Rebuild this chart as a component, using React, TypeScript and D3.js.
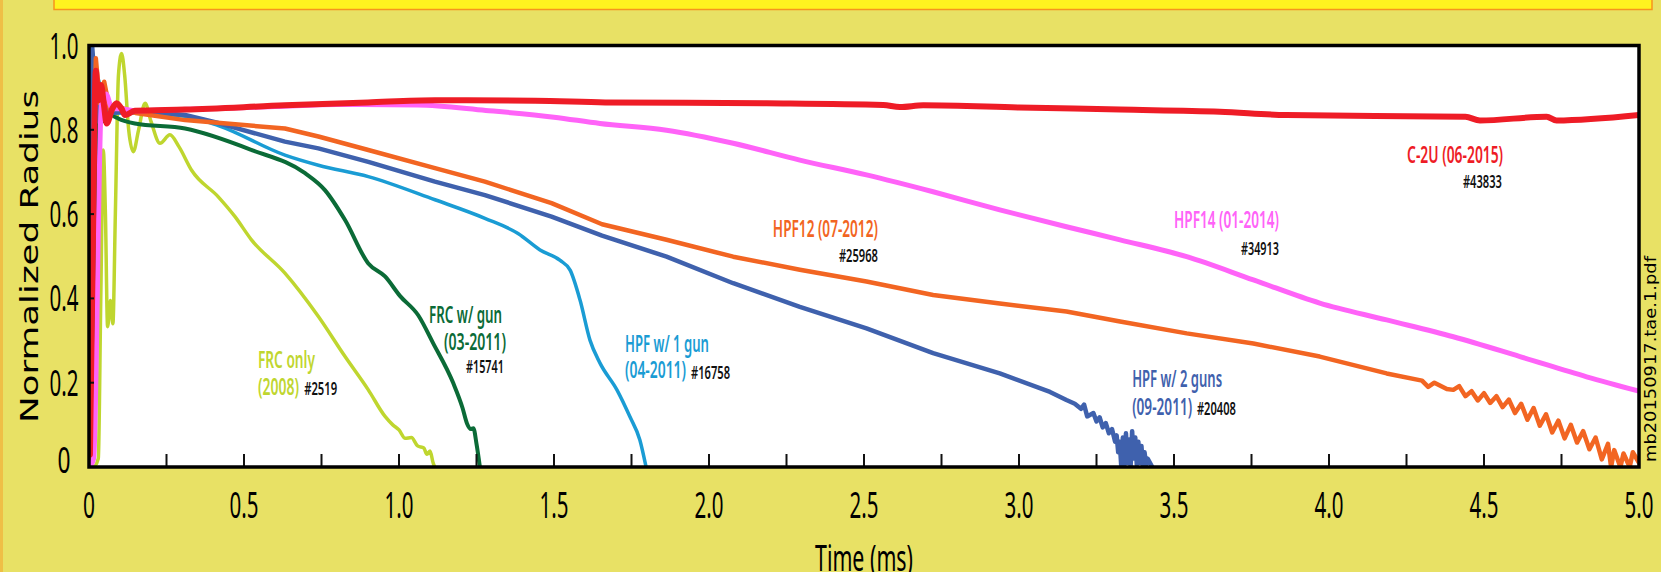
import React from 'react';
import * as d3 from 'd3';

// time (ms), normalized radius
const frcOnly: [number, number][] = [
  [0.003, 0.04], [0.015, 0.0], [0.03, 0.02], [0.038, 0.4], [0.046, 0.752], [0.053, 0.6],
  [0.06, 0.333], [0.069, 0.395], [0.077, 0.34], [0.085, 0.6], [0.095, 0.93], [0.105, 0.981],
  [0.115, 0.93], [0.128, 0.8], [0.143, 0.748], [0.16, 0.8], [0.181, 0.863], [0.2, 0.82],
  [0.229, 0.768], [0.261, 0.788], [0.29, 0.76], [0.331, 0.704], [0.417, 0.641], [0.471, 0.594],
  [0.524, 0.539], [0.632, 0.46], [0.74, 0.357], [0.826, 0.262], [0.901, 0.183], [0.955, 0.12],
  [0.98, 0.1], [1.0, 0.088], [1.02, 0.068], [1.04, 0.07], [1.06, 0.05], [1.08, 0.045],
  [1.09, 0.03], [1.1, 0.038], [1.11, 0.01], [1.115, 0.0],
];

const frcGun: [number, number][] = [
  [0.005, 0.0], [0.02, 0.3], [0.033, 0.85], [0.045, 0.82], [0.06, 0.855], [0.075, 0.835],
  [0.094, 0.827], [0.148, 0.815], [0.31, 0.803], [0.525, 0.752], [0.697, 0.697], [0.761, 0.657],
  [0.826, 0.586], [0.901, 0.483], [0.955, 0.452], [1.003, 0.406], [1.062, 0.36], [1.11, 0.294],
  [1.175, 0.199], [1.205, 0.14], [1.219, 0.104], [1.232, 0.09], [1.24, 0.092], [1.25, 0.055],
  [1.261, 0.0],
];

const hpf1Gun: [number, number][] = [
  [0.003, 0.0], [0.012, 0.9], [0.03, 0.92], [0.045, 0.85], [0.07, 0.84], [0.15, 0.84],
  [0.31, 0.832], [0.417, 0.81], [0.632, 0.74], [0.74, 0.716], [0.901, 0.689], [1.116, 0.634],
  [1.277, 0.59], [1.384, 0.554], [1.455, 0.515], [1.52, 0.49], [1.552, 0.467], [1.584, 0.396],
  [1.616, 0.301], [1.648, 0.247], [1.703, 0.183], [1.745, 0.119], [1.777, 0.064], [1.797, 0.0],
];

const hpf2Guns: [number, number][] = [
  [0.003, 0.0], [0.01, 1.0], [0.02, 0.9], [0.03, 0.82], [0.045, 0.86], [0.07, 0.84],
  [0.15, 0.845], [0.31, 0.835], [0.417, 0.816], [0.632, 0.772], [0.74, 0.756], [0.901, 0.724],
  [1.116, 0.677], [1.277, 0.645], [1.492, 0.594], [1.655, 0.549], [1.863, 0.499], [2.078, 0.436],
  [2.293, 0.38], [2.508, 0.329], [2.723, 0.27], [2.938, 0.222], [3.1, 0.178], [3.153, 0.159],
  [3.18, 0.15], [3.2, 0.138], [3.21, 0.148], [3.22, 0.12], [3.24, 0.128], [3.25, 0.108],
  [3.26, 0.118], [3.27, 0.094], [3.28, 0.104], [3.29, 0.08], [3.3, 0.09], [3.31, 0.06],
  [3.315, 0.075], [3.32, 0.035], [3.325, 0.06], [3.33, 0.0], [3.335, 0.07], [3.34, 0.005],
  [3.345, 0.08], [3.35, 0.01], [3.355, 0.065], [3.36, 0.0], [3.365, 0.085], [3.37, 0.02],
  [3.375, 0.07], [3.38, 0.005], [3.385, 0.06], [3.39, 0.01], [3.395, 0.05], [3.4, 0.0],
  [3.405, 0.035], [3.41, 0.005], [3.415, 0.02], [3.43, 0.0],
];

const hpf12: [number, number][] = [
  [0.003, 0.0], [0.012, 0.6], [0.022, 0.97], [0.035, 0.863], [0.049, 0.914], [0.068, 0.843],
  [0.094, 0.855], [0.15, 0.84], [0.31, 0.823], [0.632, 0.803], [0.74, 0.784], [0.901, 0.752],
  [1.116, 0.709], [1.277, 0.677], [1.492, 0.626], [1.655, 0.576], [1.863, 0.539], [2.078, 0.499],
  [2.293, 0.468], [2.508, 0.44], [2.723, 0.408], [2.938, 0.388], [3.153, 0.369], [3.326, 0.345],
  [3.541, 0.317], [3.756, 0.293], [3.97, 0.262], [4.186, 0.222], [4.3, 0.205], [4.32, 0.19],
  [4.34, 0.2], [4.38, 0.185], [4.401, 0.183], [4.42, 0.192], [4.44, 0.168], [4.46, 0.18],
  [4.48, 0.158], [4.5, 0.175], [4.52, 0.152], [4.54, 0.168], [4.56, 0.142], [4.58, 0.16],
  [4.6, 0.128], [4.62, 0.15], [4.64, 0.112], [4.66, 0.14], [4.68, 0.098], [4.7, 0.125],
  [4.72, 0.082], [4.74, 0.11], [4.76, 0.068], [4.78, 0.1], [4.8, 0.058], [4.82, 0.085],
  [4.84, 0.042], [4.86, 0.07], [4.88, 0.018], [4.9, 0.055], [4.91, 0.0], [4.92, 0.04],
  [4.94, 0.0], [4.95, 0.032], [4.97, 0.0], [4.98, 0.035], [5.0, 0.01],
];

const hpf14: [number, number][] = [
  [0.003, 0.0], [0.015, 0.02], [0.04, 0.86], [0.055, 0.885], [0.075, 0.85], [0.1, 0.85],
  [0.15, 0.845], [0.3, 0.848], [0.6, 0.855], [0.8, 0.86], [1.06, 0.859], [1.28, 0.846],
  [1.5, 0.83], [1.648, 0.815], [1.863, 0.799], [2.078, 0.768], [2.293, 0.728], [2.508, 0.693],
  [2.723, 0.653], [2.938, 0.61], [3.153, 0.57], [3.326, 0.539], [3.541, 0.499], [3.756, 0.444],
  [3.97, 0.389], [4.186, 0.349], [4.401, 0.309], [4.616, 0.262], [4.831, 0.214], [5.0, 0.18],
];

const c2u: [number, number][] = [
  [0.003, 0.03], [0.012, 0.5], [0.022, 0.94], [0.03, 0.87], [0.039, 0.906], [0.048, 0.86],
  [0.057, 0.815], [0.075, 0.85], [0.089, 0.863], [0.105, 0.85], [0.116, 0.835], [0.148, 0.845],
  [0.31, 0.848], [0.632, 0.858], [0.9, 0.865], [1.116, 0.87], [1.439, 0.869], [1.665, 0.865],
  [2.186, 0.863], [2.562, 0.859], [2.616, 0.854], [2.691, 0.858], [3.0, 0.853], [3.326, 0.848],
  [3.648, 0.843], [3.863, 0.835], [4.44, 0.831], [4.487, 0.822], [4.702, 0.831], [4.734, 0.822],
  [5.0, 0.835],
];

const xTickLabels = ['0', '0.5', '1.0', '1.5', '2.0', '2.5', '3.0', '3.5', '4.0', '4.5', '5.0'];
const yTickLabels = ['0', '0.2', '0.4', '0.6', '0.8', '1.0'];

const series = [
  { data: frcOnly, color: '#bfd62f', width: 3.5, jagged: false },
  { data: frcGun, color: '#0b6b37', width: 4, jagged: false },
  { data: hpf1Gun, color: '#1a9cd4', width: 3.5, jagged: false },
  { data: hpf2Guns, color: '#3f61ad', width: 4.5, jagged: true },
  { data: hpf12, color: '#f26522', width: 4.5, jagged: true },
  { data: hpf14, color: '#ff63f8', width: 5, jagged: false },
  { data: c2u, color: '#ee1c26', width: 6, jagged: false },
];

// annotation text: [text, color, left x (ms), baseline (radius), width px, size]
const notes: [string, string, number, number, number, number][] = [
  ['FRC only', '#bfd62f', 0.545, 0.235, 57, 23],
  ['(2008)', '#bfd62f', 0.545, 0.171, 41, 23],
  ['#2519', '#111', 0.694, 0.171, 33, 17],
  ['FRC w/ gun', '#0b6b37', 1.097, 0.342, 73, 23],
  ['(03-2011)', '#0b6b37', 1.145, 0.278, 62, 23],
  ['#15741', '#111', 1.216, 0.223, 38, 17],
  ['HPF w/ 1 gun', '#1a9cd4', 1.729, 0.272, 84, 23],
  ['(04-2011)', '#1a9cd4', 1.729, 0.211, 61, 23],
  ['#16758', '#111', 1.942, 0.209, 39, 17],
  ['HPF12 (07-2012)', '#f26522', 2.206, 0.546, 105, 23],
  ['#25968', '#111', 2.419, 0.486, 39, 17],
  ['HPF w/ 2 guns', '#3f61ad', 3.365, 0.19, 90, 23],
  ['(09-2011)', '#3f61ad', 3.365, 0.123, 60, 23],
  ['#20408', '#111', 3.574, 0.123, 39, 17],
  ['HPF14 (01-2014)', '#ff63f8', 3.5, 0.567, 105, 23],
  ['#34913', '#111', 3.716, 0.503, 38, 17],
  ['C-2U (06-2015)', '#ee1c26', 4.252, 0.721, 96, 23],
  ['#43833', '#111', 4.432, 0.662, 39, 17],
];

const W = 1661;
const H = 572;
const left = 89, right = 1639, top = 45.5, bottom = 467;
const labelFont = '"Noto Sans", "Open Sans", sans-serif';

export default function App() {
  const x = d3.scaleLinear().domain([0, 5]).range([left, right]);
  const y = d3.scaleLinear().domain([0, 1]).range([bottom, top]);
  const smooth = d3.line<[number, number]>()
    .x(d => x(d[0]))
    .y(d => y(d[1]))
    .curve(d3.curveMonotoneX);
  const rough = d3.line<[number, number]>()
    .x(d => x(d[0]))
    .y(d => y(d[1]));

  const minorTicks = d3.range(1, 20).map(i => i * 0.25);

  return (
    <svg width={W} height={H} style={{ position: 'absolute', left: 0, top: 0 }}>
      <rect x={0} y={0} width={W} height={H} fill="#e8e165" />
      <rect x={0} y={0} width={3} height={H} fill="#efbf46" />
      <rect x={54} y={-10} width={1598} height={19.5} fill="#fff31f" stroke="#f7941d" strokeWidth={1.5} />

      <defs>
        <clipPath id="plot">
          <rect x={left} y={top} width={right - left} height={bottom - top} />
        </clipPath>
      </defs>
      <rect x={left} y={top} width={right - left} height={bottom - top} fill="#fff" />

      <g clipPath="url(#plot)">
        {series.map((s, i) => (
          <path key={i} d={(s.jagged ? rough : smooth)(s.data) || ''} fill="none" stroke={s.color}
            strokeWidth={s.width} strokeLinejoin="round" strokeLinecap="round" />
        ))}
      </g>

      {minorTicks.map(t => (
        <line key={t} x1={x(t)} x2={x(t)} y1={bottom} y2={bottom - 13} stroke="#111" strokeWidth={2} />
      ))}
      {[0.2, 0.4, 0.6, 0.8].map(v => (
        <line key={v} x1={left} x2={left + 5} y1={y(v)} y2={y(v)} stroke="#111" strokeWidth={2} />
      ))}
      <rect x={left} y={top} width={right - left} height={bottom - top} fill="none" stroke="#000" strokeWidth={3.5} />

      {notes.map(([txt, col, t, v, w, size]) => (
        <text key={txt + t} x={x(t)} y={y(v)} fill={col} fontFamily={labelFont} fontSize={size}
          fontWeight={600} textLength={w} lengthAdjust="spacingAndGlyphs">{txt}</text>
      ))}

      {xTickLabels.map((s, i) => (
        <text key={s} x={x(i * 0.5)} y={518} textAnchor="middle" fontFamily={labelFont} fontSize={37}
          fill="#000" textLength={s.length === 1 ? 12 : 29} lengthAdjust="spacingAndGlyphs">{s}</text>
      ))}
      {yTickLabels.map((s, i) => (
        <text key={s} x={64} y={y(i * 0.2) + (i === 0 ? 6 : 13)} textAnchor="middle" fontFamily={labelFont}
          fontSize={37} fill="#000" textLength={s.length === 1 ? 13 : 29} lengthAdjust="spacingAndGlyphs">{s}</text>
      ))}

      <text x={864} y={571} textAnchor="middle" fontFamily={labelFont} fontSize={37} fill="#000"
        textLength={98} lengthAdjust="spacingAndGlyphs">Time (ms)</text>
      <text transform="translate(38,256.5) rotate(-90)" textAnchor="middle" fontFamily="DejaVu Sans"
        fontSize={24} fill="#000" textLength={333} lengthAdjust="spacingAndGlyphs">Normalized Radius</text>
      <text transform="translate(1656,359) rotate(-90)" textAnchor="middle" fontFamily="DejaVu Sans"
        fontSize={16} fill="#000" textLength={206} lengthAdjust="spacingAndGlyphs">mb20150917.tae.1.pdf</text>
    </svg>
  );
}
